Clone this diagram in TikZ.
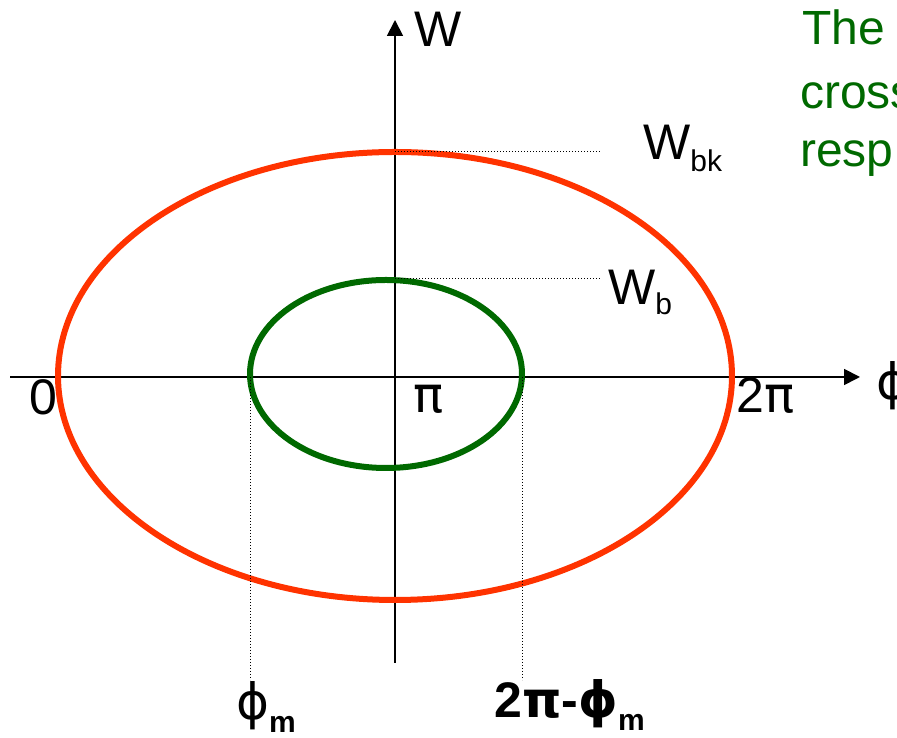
\documentclass[tikz,border=0pt]{standalone}
\usepackage{fontspec}
\setmainfont{Liberation Sans}
\newfontfamily\greekfont{DejaVu Sans}
\usetikzlibrary{arrows.meta}

\definecolor{ringred}{RGB}{255,51,0}
\definecolor{ringgreen}{RGB}{0,105,0}

\newcommand{\gk}[1]{{\greekfont #1}}
\newcommand{\sub}[2]{\raisebox{-#1pt}{\fontsize{30}{30}\selectfont #2}}

\begin{document}
\begin{tikzpicture}[
    x=1pt, y=1pt,
    axis/.style={line width=1.8pt, -{Triangle[length=16pt, width=16pt]}},
    ring/.style={line width=6pt},
    guide/.style={dotted, line width=1pt},
    lbl/.style={inner sep=0pt, anchor=base west, font=\fontsize{50}{60}\selectfont},
    note/.style={inner sep=0pt, anchor=base west, text=ringgreen,
        font=\fontsize{48}{61}\selectfont}
]
    \useasboundingbox (0,0) rectangle (897,738);
    \clip (0,0) rectangle (897,738);

    % axes
    \coordinate (xl) at (10,361);
    \coordinate (xr) at (860,361);
    \coordinate (yb) at (395,75);
    \coordinate (yt) at (395,718);
    \draw [axis] (xl) -- (xr);
    \draw [axis] (yb) -- (yt);

    % the two orbits
    \draw [ring, ringred] (395,362) ellipse [x radius=337pt, y radius=224pt];
    \draw [ring, ringgreen] (386,364) ellipse [x radius=136pt, y radius=94pt];

    % guide lines
    \coordinate (rtop) at (395,586);
    \coordinate (rtick) at (600,586);
    \coordinate (gtop) at (395,459);
    \coordinate (gtick) at (600,459);
    \coordinate (gleft) at (250,361);
    \coordinate (gleftend) at (250,58);
    \coordinate (gright) at (522,361);
    \coordinate (grightend) at (522,58);
    \draw [guide] (rtop) -- (rtick);
    \draw [guide] (gtop) -- (gtick);
    \draw [guide] (gleft) -- (gleftend);
    \draw [guide] (gright) -- (grightend);

    % labels
    \node [lbl] (wlab) at (414,691) {W};
    \node [lbl] (wbk) at (643,578) {W\sub{12}{bk}};
    \node [lbl] (wb) at (608,433) {W\sub{10}{b}};
    \node [lbl] (zero) at (29,323) {0};
    \node [lbl] (pi) at (413,325) {\gk{π}};
    \node [lbl] (twopi) at (736,325) {2\gk{π}};
    \node [lbl] (philab) at (876,338) {\gk{ϕ}};
    \node [lbl] (phim) at (236,18) {\gk{ϕ}\sub{13}{\bfseries m}};
    \node [lbl, font=\fontsize{50}{60}\selectfont\bfseries] (phiend) at (494,20) {2\gk{π}-\gk{ϕ}\sub{13}{m}};

    % remark at the top right, cut by the edge
    \node [note] (notea) at (802,693) {The};
    \node [note] (noteb) at (800,629) {cross};
    \node [note] (notec) at (800,571) {resp};
\end{tikzpicture}
\end{document}
